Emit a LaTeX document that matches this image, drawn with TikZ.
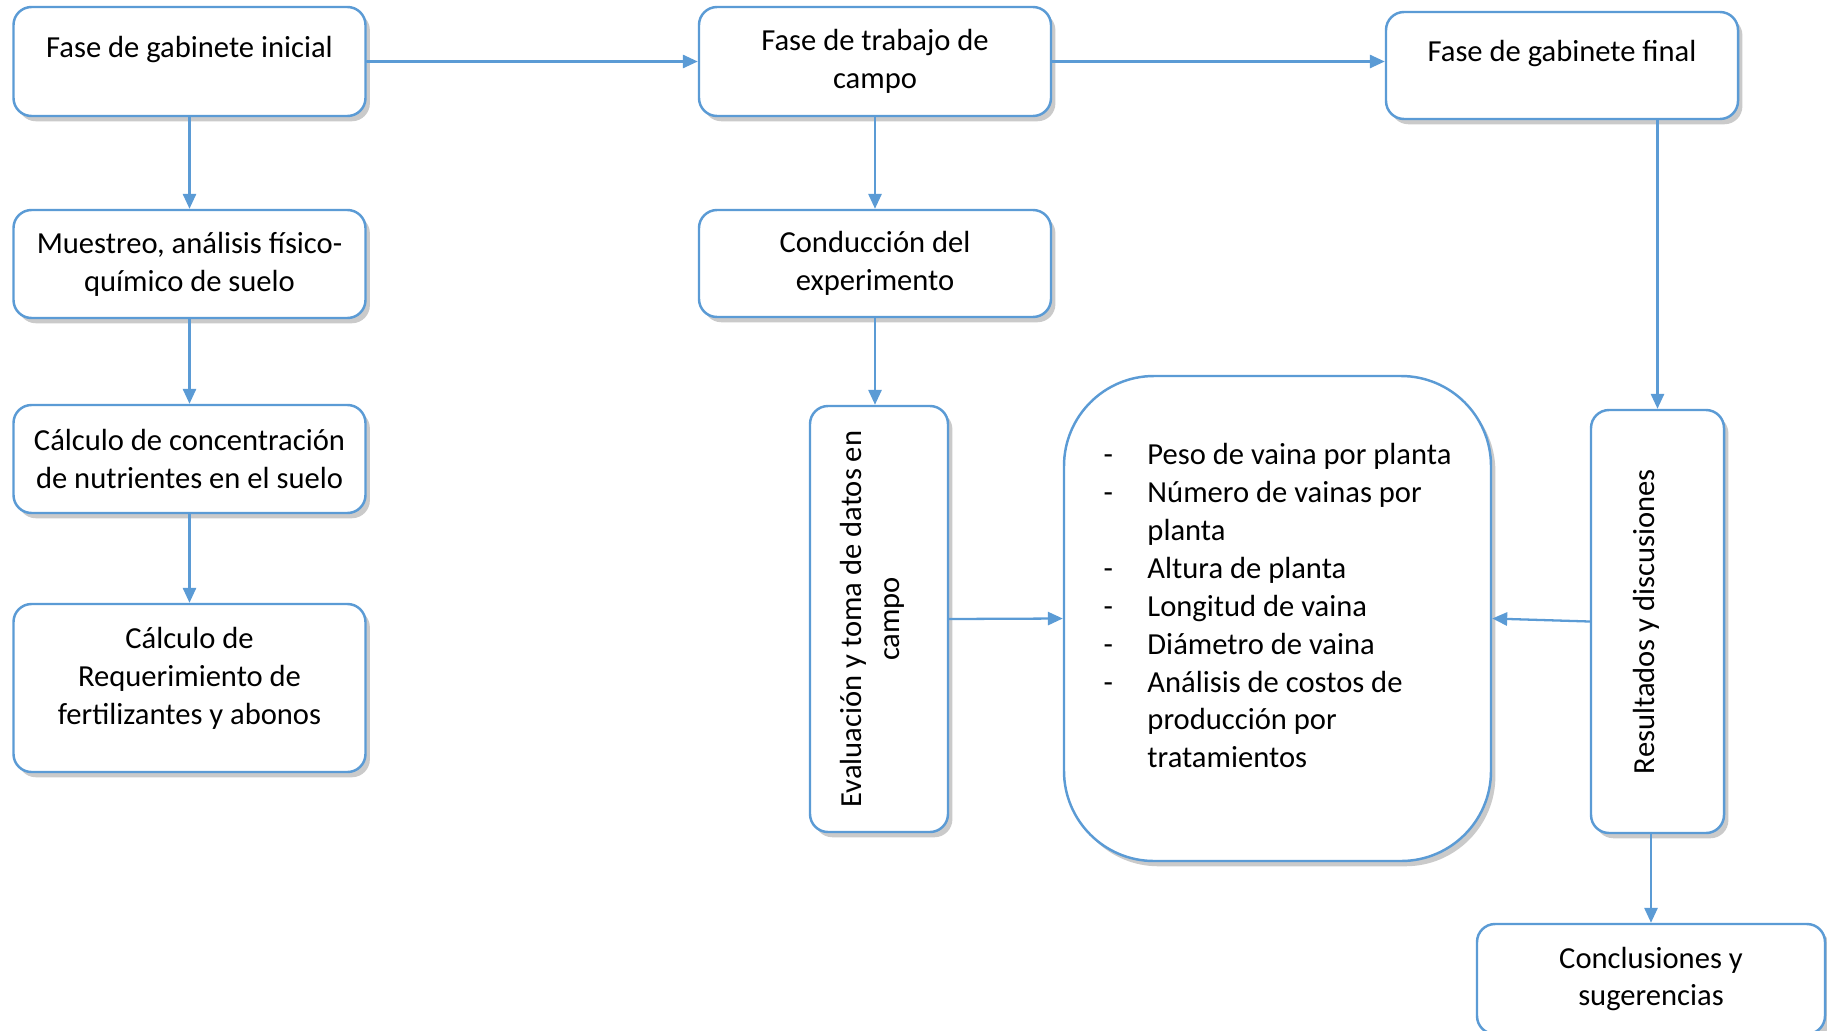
\documentclass[tikz,border=0pt]{standalone}
\usepackage{fontspec}
\setmainfont{Carlito}
\usepackage{pgf,tikz}
\usetikzlibrary{arrows.meta,shadows}
\definecolor{boxblue}{RGB}{91,155,213}
\newcommand{\itemdash}{\makebox[25pt][l]{-}}
\newcommand{\itemgap}{\hspace*{25pt}}
\newcommand{\lift}[2]{\raisebox{#1}[\height][\depth]{#2}}
\tikzset{
  fase/.style={draw=boxblue,line width=1.4pt,fill=white,rounded corners=0.36cm,
    align=center,inner sep=0pt,minimum width=7.04cm,minimum height=2.16cm,
    font=\fontsize{17.4}{21.6}\selectfont,
    drop shadow={shadow xshift=2.5pt,shadow yshift=-3pt,opacity=.35,fill=black!60}},
  flecha/.style={draw=boxblue,line width=1.3pt,-{Triangle[length=8.5pt,width=7.5pt]}}
}
\begin{document}
\begin{tikzpicture}[line cap=round,line join=round]
\useasboundingbox (0,0) rectangle (36.54,-20.6);
\clip (0,0) rectangle (36.54,-20.6);
% top row
\node[fase,minimum height=2.18cm] (ini) at (3.79,-1.23) {\lift{6.8pt}{Fase de gabinete inicial}};
\node[fase,minimum height=2.18cm] (campo) at (17.5,-1.23) {Fase de trabajo de\\campo};
\node[fase,minimum height=2.14cm] (fin) at (31.24,-1.31) {\lift{6.8pt}{Fase de gabinete final}};
% left column
\node[fase] (mues) at (3.79,-5.28) {Muestreo, análisis físico-\\químico de suelo};
\node[fase] (conc) at (3.79,-9.18) {Cálculo de concentración\\de nutrientes en el suelo};
\node[fase,minimum height=3.36cm] (req) at (3.79,-13.76)
  {\lift{5pt}{\begin{tabular}{@{}c@{}}Cálculo de\\Requerimiento de\\fertilizantes y abonos\end{tabular}}};
% middle
\node[fase,minimum height=2.14cm] (cond) at (17.5,-5.27) {Conducción del\\experimento};
\node[fase,minimum width=2.76cm,minimum height=8.52cm] (eva) at (17.58,-12.38)
  {\rotatebox{90}{\lift{3.4pt}{\begin{tabular}{@{}c@{}}Evaluación y toma de datos en\\campo\end{tabular}}}};
\node[fase,minimum width=8.54cm,minimum height=9.7cm,rounded corners=1.8cm] (var) at (25.55,-12.37)
  {\lift{5.7pt}{\begin{tabular}{@{}l@{}}
   \itemdash Peso de vaina por planta\\
   \itemdash Número de vainas por\\
   \itemgap planta\\
   \itemdash Altura de planta\\
   \itemdash Longitud de vaina\\
   \itemdash Diámetro de vaina\\
   \itemdash Análisis de costos de\\
   \itemgap producción por\\
   \itemgap tratamientos
  \end{tabular}}};
% right column
\node[fase,minimum width=2.66cm,minimum height=8.46cm] (res) at (33.15,-12.43)
  {\rotatebox{90}{\lift{6.2pt}{Resultados y discusiones}}};
\node[fase,minimum width=6.96cm,minimum height=2.2cm] (concl) at (33.02,-19.58) {Conclusiones y\\sugerencias};
% connectors
\draw[flecha] (ini) -- (campo);
\draw[flecha] (campo.east) -- (campo.east -| fin.west);
\draw[flecha] (ini) -- (mues);
\draw[flecha] (mues) -- (conc);
\draw[flecha] (conc) -- (req);
\draw[flecha] (campo) -- (cond);
\draw[flecha] (cond.south) -- (cond.south |- eva.north);
\draw[flecha] (eva.east) -- (var.west);
\draw[flecha] (res.west) -- (var.east);
\draw[flecha] (res.north |- fin.south) -- (res.north);
\draw[flecha] (concl.north |- res.south) -- (concl.north);
\end{tikzpicture}
\end{document}
